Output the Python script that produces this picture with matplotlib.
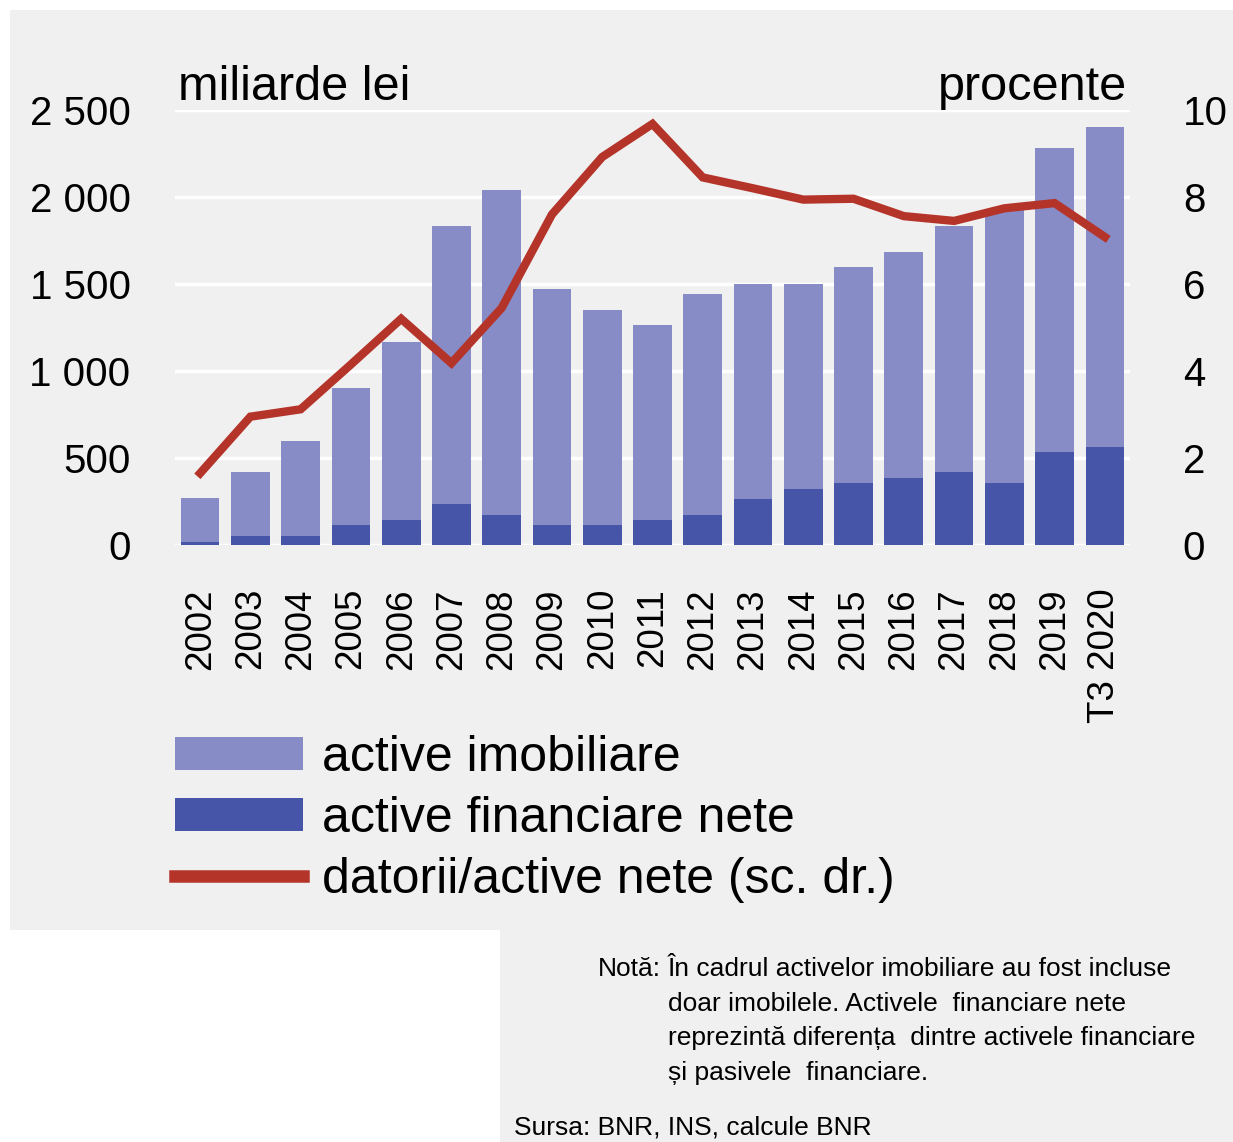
import matplotlib
matplotlib.use("Agg")
import numpy as np
import matplotlib.pyplot as plt
from matplotlib.patches import Rectangle

# Data
years = ['2002', '2003', '2004', '2005', '2006', '2007', '2008', '2009', '2010',
         '2011', '2012', '2013', '2014', '2015', '2016', '2017', '2018', '2019',
         'T3 2020']
active_imobiliare = [250, 368, 546, 787, 1023, 1597, 1871, 1356, 1238,
                     1118, 1271, 1236, 1178, 1239, 1299, 1413, 1574, 1747, 1839]
active_financiare = [20, 52, 52, 115, 144, 236, 172, 115, 115,
                     144, 172, 264, 322, 356, 385, 420, 356, 535, 563]
datorii_active = [1.65, 2.95, 3.12, 4.15, 5.2, 4.18, 5.45, 7.6, 8.92,
                  9.68, 8.45, 8.2, 7.94, 7.96, 7.56, 7.45, 7.74, 7.86, 7.08]

left_ticks = [0, 500, 1000, 1500, 2000, 2500]
left_ticklabels = ['0', '500', '1 000', '1 500', '2 000', '2 500']
right_ticks = [0, 2, 4, 6, 8, 10]

c_imob = '#878bc6'
c_fin = '#4755a8'
c_line = '#b5342a'
bg = '#f0f0f0'

regular = ['Liberation Sans', 'DejaVu Sans']

W, H = 1233, 1142
fig = plt.figure(figsize=(W / 100, H / 100), dpi=100)
fig.patch.set_facecolor('white')

# gray panels behind the chart and the note
fig.patches.append(Rectangle((10 / W, 1 - 930 / H), (W - 10) / W, 920 / H,
                             transform=fig.transFigure, facecolor=bg,
                             edgecolor='none', zorder=-10))
fig.patches.append(Rectangle((500 / W, 0), (W - 500) / W, (H - 930) / H,
                             transform=fig.transFigure, facecolor=bg,
                             edgecolor='none', zorder=-10))

ax = fig.add_axes([175 / W, 1 - 545 / H, (1130 - 175) / W, (545 - 110) / H])
ax.set_facecolor('none')
x = np.arange(len(years))

b1 = ax.bar(x, active_financiare, width=0.77, color=c_fin, zorder=2)
b2 = ax.bar(x, active_imobiliare, width=0.77, bottom=active_financiare,
            color=c_imob, zorder=2)

ax.set_xlim(-0.5, len(years) - 0.5)
ax.set_ylim(0, 2500)
ax.set_yticks(left_ticks)
ax.set_yticklabels(left_ticklabels, family=regular, fontsize=29)
ax.set_xticks(x)
ax.set_xticklabels(years, rotation=90, family=regular, fontsize=26.5)
ax.tick_params(axis='y', length=0, pad=32)
ax.tick_params(axis='x', length=0, pad=31)
ax.grid(axis='y', color='white', linewidth=2.5)
ax.set_axisbelow(True)
for s in ax.spines.values():
    s.set_visible(False)

ax2 = ax.twinx()
line, = ax2.plot(x, datorii_active, color=c_line, linewidth=6,
                 solid_joinstyle='miter', zorder=3)
ax2.set_ylim(0, 10)
ax2.set_yticks(right_ticks)
ax2.set_yticklabels([str(t) for t in right_ticks], family=regular, fontsize=29)
ax2.tick_params(axis='y', length=0, pad=38)
for s in ax2.spines.values():
    s.set_visible(False)

fig.text(178 / W, 1 - 100 / H, 'miliarde lei', family=regular, fontsize=35,
         ha='left', va='baseline')
fig.text(1127 / W, 1 - 100 / H, 'procente', family=regular, fontsize=35,
         ha='right', va='baseline')

leg = fig.legend([b2, b1, line],
                 ['active imobiliare', 'active financiare nete',
                  'datorii/active nete (sc. dr.)'],
                 loc='upper left', bbox_to_anchor=(175 / W, 1 - 735 / H),
                 frameon=False, prop={'family': regular, 'size': 36},
                 handlelength=2.55, handleheight=0.62, handletextpad=0.4,
                 labelspacing=0.3, borderpad=0, borderaxespad=0)
for h in leg.get_lines():
    h.set_linewidth(9)

note_lines = ('În cadrul activelor imobiliare au fost incluse\n'
              'doar imobilele. Activele  financiare nete\n'
              'reprezintă diferența  dintre activele financiare\n'
              'și pasivele  financiare.')
fig.text(598 / W, 1 - 957 / H, 'Notă:', family=regular, fontsize=19,
         ha='left', va='top')
fig.text(668 / W, 1 - 957 / H, note_lines, family=regular, fontsize=19,
         ha='left', va='top', linespacing=1.56)
fig.text(514 / W, 1 - 1128 / H, 'Sursa: BNR, INS, calcule BNR', family=regular,
         fontsize=19, ha='left', va='center')

fig.savefig('out.png', dpi=100, facecolor=fig.get_facecolor())
